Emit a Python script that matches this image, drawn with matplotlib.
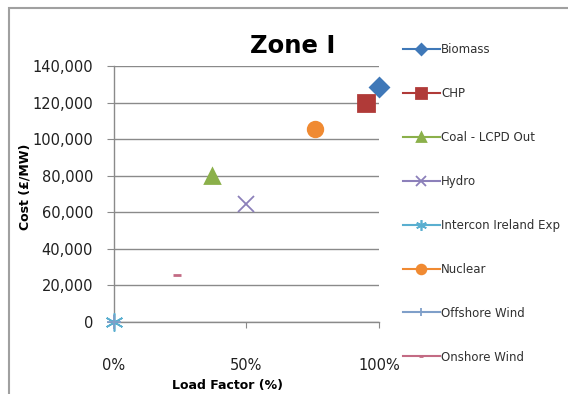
import numpy as np
import matplotlib.pyplot as plt
from matplotlib.patches import Rectangle

plt.rcParams['font.family'] = ['DejaVu Sans']

# データ
series = ['Biomass', 'CHP', 'Coal - LCPD Out', 'Hydro', 'Intercon Ireland Exp',
          'Nuclear', 'Offshore Wind', 'Onshore Wind']
load_factor = [1.00, 0.95, 0.37, 0.50, 0.0, 0.76, 0.0, 0.237]
cost = [128500, 120000, 80000, 64500, 0, 105500, 0, 25800]

# スタイル
colors = ['#3F78B8', '#B03A38', '#8BB04A', '#8C80BA', '#5AAFD0',
          '#F08A32', '#7F9FC9', '#C36B84']
markers = ['D', 's', '^', 'x', (6, 2, 0), 'o', '+', '_']
sizes = [9, 11, 10, 12, 13, 10.5, 10, 6]

fig = plt.figure(figsize=(5.68, 3.94), dpi=100)
ax = fig.add_axes([114 / 568, 1 - 322 / 394, 265 / 568, 256 / 394])

for name, x, y, c, m, s in zip(series, load_factor, cost, colors, markers, sizes):
    mew = 1.3 if m in ('x', '+') else (1.2 if m == (6, 2, 0) else 2)
    ax.plot([x], [y], linestyle='-', color=c, marker=m, markersize=s,
            markeredgewidth=mew, markeredgecolor=c, label=name,
            clip_on=False, zorder=3)

ax.set_xlim(0, 1)
ax.set_ylim(0, 140000)
ax.set_xticks([0, 0.5, 1])
ax.set_xticklabels(['0%', '50%', '100%'])
ax.set_yticks(np.arange(0, 140001, 20000))
ax.set_yticklabels(['{:,}'.format(v) for v in range(0, 140001, 20000)])
ax.yaxis.grid(True, color='#8a8a8a', linewidth=1)
ax.set_axisbelow(True)

for side in ('top', 'right'):
    ax.spines[side].set_visible(False)
for side in ('left', 'bottom'):
    ax.spines[side].set_color('#8a8a8a')
    ax.spines[side].set_linewidth(1)

ax.tick_params(axis='x', length=4, color='#8a8a8a', pad=22, labelsize=10.5,
               labelcolor='#202020')
ax.tick_params(axis='y', length=5, color='#8a8a8a', pad=10, labelsize=10.5,
               labelcolor='#202020')

ax.set_xlabel('Load Factor (%)', fontsize=9, fontweight='bold')
ax.xaxis.set_label_coords(0.43, -0.222)
ax.set_ylabel('Cost (£/MW)', fontsize=9, fontweight='bold')
ax.yaxis.set_label_coords(-0.31, 0.53)

fig.text(293 / 568, 1 - 46 / 394, 'Zone I', fontsize=17.5, fontweight='bold',
         ha='center', va='center')

# 凡例
fig.legend(loc='upper left', bbox_to_anchor=(403 / 568, 1 - 43 / 394),
           frameon=False, fontsize=8.5, handlelength=3.1, handletextpad=0.15,
           labelspacing=2.62, markerscale=0.6, borderaxespad=0, borderpad=0,
           labelcolor='#303030')

# 外枠
fig.patches.append(Rectangle((9 / 568, -0.1), 1.2, 1.1 - 8 / 394,
                             transform=fig.transFigure, fill=False,
                             edgecolor='#a0a0a0', linewidth=1.5))

plt.savefig('out.png', dpi=100)
